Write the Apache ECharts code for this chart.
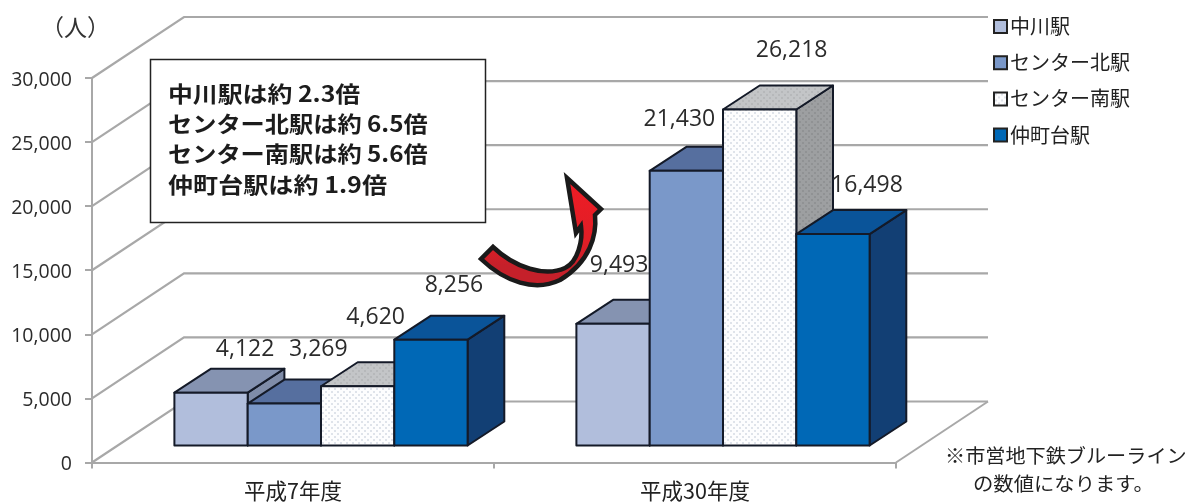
<!DOCTYPE html>
<html><head><meta charset="utf-8">
<style>html,body{margin:0;padding:0;background:#fff}#c{width:1189px;height:502px}</style>
<script src="https://cdn.jsdelivr.net/npm/echarts@6/dist/echarts.min.js"></script>
</head><body><div id="c"></div>
<script>
// ---- data ----
const categories = ['平成7年度', '平成30年度'];
const stations = ['中川駅', 'センター北駅', 'センター南駅', '仲町台駅'];
const nakagawa = [4122, 9493];
const centerKita = [3269, 21430];
const centerMinami = [4620, 26218];
const nakamachidai = [8256, 16498];
const yTicks = [0, 5000, 10000, 15000, 20000, 25000, 30000];
const calloutLines = ['中川駅は約 2.3倍', 'センター北駅は約 6.5倍', 'センター南駅は約 5.6倍', '仲町台駅は約 1.9倍'];
const noteLines = ['※市営地下鉄ブルーライン', 'の数値になります。'];
const unitLabel = '（人）';

// ---- layout / style ----
const CJK = '"Noto Sans CJK JP","Noto Sans",sans-serif';
const NUM = '"Open Sans","Noto Sans",sans-serif';
const WALL_DX = 92, WALL_DY = 61;
const BAR_W = 73.3, BAR_DX = 36.7, BAR_DY = 24, BASE_DX = 28, BASE_DY = 17;
const EDGE = '#141a28';
const calloutScale = [1.13, 1.10, 1.10, 1.14];
function dots(bg, dot, size) {
  const s = size || 6, c = document.createElement('canvas');
  c.width = s; c.height = s;
  const g = c.getContext('2d');
  g.fillStyle = bg; g.fillRect(0, 0, s, s);
  g.fillStyle = dot;
  g.fillRect(1, 1, 2, 2);
  g.fillRect(1 + s / 2 | 0, 1 + s / 2 | 0, 2, 2);
  return { image: c, repeat: 'repeat' };
}
const styles = [
  { front: '#B1BEDC', top: '#8593B1', side: '#7F8CA8' },
  { front: '#7A98C9', top: '#566F9F', side: '#4F6592' },
  { front: dots('#FDFDFE', '#DFE3EA'), top: dots('#C3C5C7', '#B6B8BA'), side: dots('#9D9FA1', '#909294') },
  { front: '#0068B6', top: '#0A5499', side: '#123F74' }
];
// data-label offset from the top-front centre of each bar, per station and category
const labelOffsets = [
  [[34, -43], [6, -58]],
  [[34, -54], [-7, -51]],
  [[18, -69], [32, -59]],
  [[23, -54], [34, -49]]
];
const values = [nakagawa, centerKita, centerMinami, nakamachidai];
const fmt = v => v.toLocaleString('en-US');

echarts.graphic.registerShape('curvedArrow', echarts.graphic.extendPath(
  'M567 178 L601 209 L595 215 C597 235 590 262 560 280 C535 292 505 282 481 259 L493 247 C515 268 545 277 565 268 C578 262 583 240 581 226 L576 233 Z', {}));

function poly(points, fill, z2) {
  return { type: 'polygon', shape: { points }, z2: z2 || 1,
    style: { fill, stroke: EDGE, lineWidth: 2, lineJoin: 'round' } };
}
function barSeries(si) {
  return {
    type: 'custom', name: stations[si],
    itemStyle: { color: styles[si].front, borderColor: '#222', borderWidth: 2 },
    data: categories.map((c, i) => [i, values[si][i]]),
    encode: { x: 0, y: 1 },
    renderItem(params, api) {
      const cat = api.value(0), v = api.value(1);
      const o = api.coord([cat, 0]), t = api.coord([cat, v]);
      const x0 = o[0] + BASE_DX + (si - 2) * BAR_W, x1 = x0 + BAR_W;
      const yb = o[1] - BASE_DY, yt = yb - (o[1] - t[1]);
      const s = styles[si], off = labelOffsets[si][cat];
      return { type: 'group', children: [
        poly([[x1, yb], [x1 + BAR_DX, yb - BAR_DY], [x1 + BAR_DX, yt - BAR_DY], [x1, yt]], s.side),
        poly([[x0, yt], [x1, yt], [x1 + BAR_DX, yt - BAR_DY], [x0 + BAR_DX, yt - BAR_DY]], s.top),
        poly([[x0, yb], [x1, yb], [x1, yt], [x0, yt]], s.front),
        { type: 'text', z2: 50, x: (x0 + x1) / 2 + off[0], y: yt + off[1],
          style: { text: fmt(v), fill: '#2b2b2b', font: '23px ' + NUM, textAlign: 'center', textVerticalAlign: 'middle' } }
      ] };
    }
  };
}
const wallSeries = {
  type: 'custom', silent: true, z: 1,
  data: yTicks.map(v => [0, v]),
  encode: { y: 1 },
  renderItem(params, api) {
    const a = api.coord([0, api.value(1)]);
    const gs = api.coord([1, 0]);
    const right = gs[0] + api.size([1, 0])[0] / 2 + WALL_DX;
    const kids = [{ type: 'polyline',
      shape: { points: [[a[0] - api.size([1, 0])[0] / 2, a[1]],
                        [a[0] - api.size([1, 0])[0] / 2 + WALL_DX, a[1] - WALL_DY],
                        [right, a[1] - WALL_DY]] },
      style: { fill: null, stroke: '#A8A8A8', lineWidth: 2.2 } }];
    if (api.value(1) === 0) {
      kids.push({ type: 'line', shape: { x1: right - WALL_DX, y1: a[1], x2: right, y2: a[1] - WALL_DY },
        style: { stroke: '#A8A8A8', lineWidth: 2 } });
    }
    return { type: 'group', children: kids };
  }
};

const textLine = (text, x, y, font, fill, scaleX, align) => ({
  type: 'text', x, y, scaleX: scaleX || 1, z: 100,
  style: { text, font, fill: fill || '#222', textAlign: align || 'left', textVerticalAlign: 'middle' }
});

const chart = echarts.init(document.getElementById('c'), null, { renderer: 'canvas' });
chart.setOption({
  animation: false,
  backgroundColor: '#fff',
  grid: { left: 92, right: 293, top: 78, bottom: 39, containLabel: false },
  legend: {
    data: stations, orient: 'vertical', left: 993, top: 14, padding: 0,
    itemWidth: 13, itemHeight: 13, itemGap: 11.2, icon: 'rect',
    selectedMode: false,
    textStyle: { fontFamily: CJK, fontSize: 20, color: '#222', padding: [0, 0, 0, -2], lineHeight: 25 }
  },
  xAxis: { type: 'category', data: categories,
    axisLine: { lineStyle: { color: '#A8A8A8', width: 2 } },
    axisTick: { show: true, length: 6, lineStyle: { color: '#A8A8A8', width: 2 } },
    axisLabel: { fontFamily: CJK, fontSize: 21.5, color: '#222', margin: 18 } },
  yAxis: { type: 'value', min: 0, max: 30000, interval: 5000,
    axisLine: { show: true, lineStyle: { color: '#A8A8A8', width: 2 } },
    axisTick: { show: true, length: 7, lineStyle: { color: '#A8A8A8', width: 2 } },
    splitLine: { show: false },
    axisLabel: { fontFamily: NUM, fontSize: 19.5, color: '#2b2b2b', margin: 20, verticalAlign: 'top', lineHeight: 4,
      formatter: v => fmt(v) } },
  series: [wallSeries].concat(stations.map((s, i) => barSeries(i))),
  graphic: { elements: [
    { type: 'rect', z: 90, shape: { x: 150.5, y: 59.5, width: 335, height: 163 },
      style: { fill: '#fff', stroke: '#222', lineWidth: 1.5 } },
    ...calloutLines.map((t, i) => textLine(t, 168, 93.5 + i * 30.3, 'bold 22px ' + CJK, '#1c1c1c', calloutScale[i])),
    { type: 'curvedArrow', z: 95, shape: {},
      style: { stroke: '#1a1a1a', lineWidth: 4.5, lineJoin: 'miter',
        fill: new echarts.graphic.LinearGradient(0, 0, 0, 1, [
          { offset: 0, color: '#EF1C25' }, { offset: 0.6, color: '#E01E26' }, { offset: 0.8, color: '#C5202A' }, { offset: 1, color: '#C5202A' }]) } },
    textLine(unitLabel, 41, 27, '23px ' + CJK, '#333', 1, 'left'),
    textLine(noteLines[0], 945, 456, '19px ' + CJK, '#222', 1.06),
    textLine(noteLines[1], 973, 484, '19px ' + CJK, '#222', 1.07)
  ] }
});
</script></body></html>
